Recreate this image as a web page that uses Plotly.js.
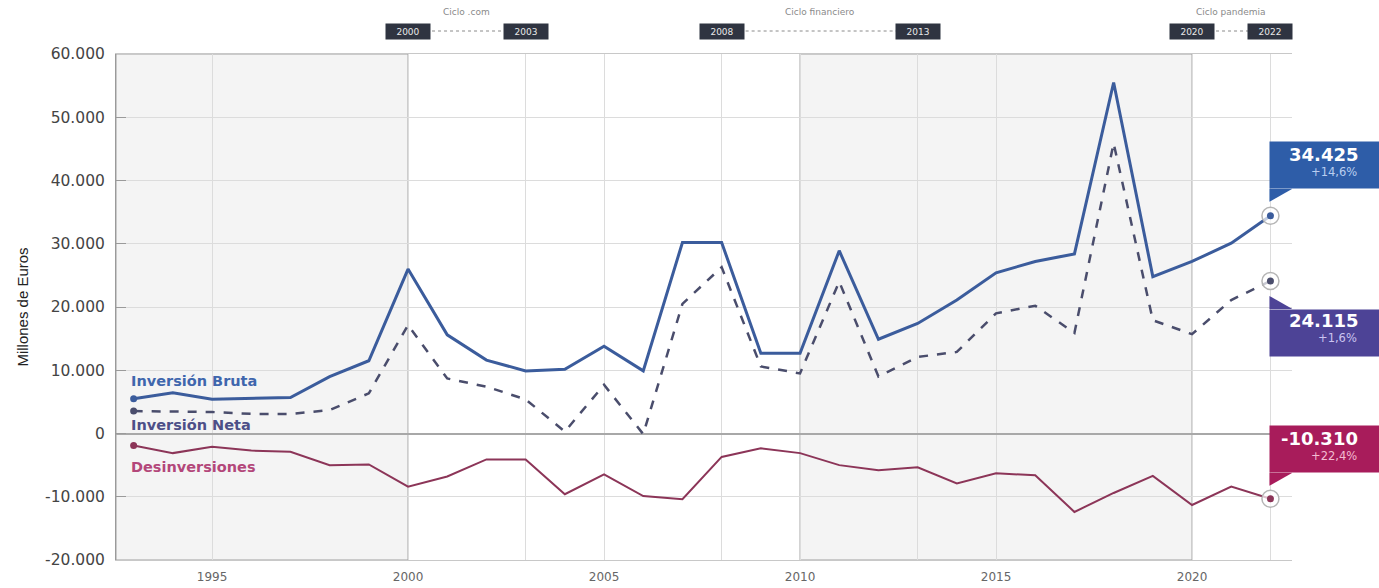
<!DOCTYPE html>
<html>
<head>
<meta charset="utf-8">
<script src="https://cdn.plot.ly/plotly-3.0.1.min.js"></script>
<style>html,body{margin:0;padding:0;background:#fff;}#chart{width:1379px;height:588px;}</style>
</head>
<body>
<div id="chart"></div>
<script>
// ---- data ----
const years = [1993,1994,1995,1996,1997,1998,1999,2000,2001,2002,2003,2004,2005,2006,2007,2008,2009,2010,2011,2012,2013,2014,2015,2016,2017,2018,2019,2020,2021,2022];
const inversionBruta = [5500,6450,5400,5550,5700,9000,11500,26000,15600,11600,9900,10150,13800,9900,30200,30200,12700,12700,28900,14900,17400,21100,25400,27200,28400,55500,24800,27200,30100,34425];
const inversionNeta = [3550,3450,3400,3100,3100,3700,6350,17150,8700,7400,5400,300,7700,-100,20500,26300,10600,9500,24000,9000,12100,12900,19000,20200,15900,45900,17900,15700,21100,24115];
const desinversiones = [-1900,-3100,-2100,-2700,-2900,-5000,-4900,-8400,-6800,-4100,-4100,-9600,-6450,-9900,-10400,-3700,-2350,-3100,-5000,-5800,-5350,-7900,-6300,-6600,-12400,-9400,-6700,-11300,-8400,-10310];
const seriesNames = ['Inversión Bruta','Inversión Neta','Desinversiones'];
const lastChange = ['+14,6%','+1,6%','+22,4%'];
const cycleStart = [2000,2008,2020];
const cycleEnd = [2003,2013,2022];
const cycleNames = ['Ciclo .com','Ciclo financiero','Ciclo pandemia'];
const shadedStart = [1992.55,2010];
const shadedEnd = [2000,2020];
const yTickVals = [-20000,-10000,0,10000,20000,30000,40000,50000,60000];
const yTickText = ['-20.000','-10.000','0','10.000','20.000','30.000','40.000','50.000','60.000'];
const xTickVals = [1995,2000,2003,2005,2008,2010,2013,2015,2020,2022];
const xTickText = ['1995','2000','','2005','','2010','','2015','2020',''];

// ---- styles ----
const lineColors = ['#3b5c9c','#4a4d6c','#8c3558'];
const labelColors = ['#3f66ad','#4d4f88','#b3477a'];
const boxColors = ['#2e5da8','#4d4396','#a81c5b'];
const pctColors = ['#b9cdf0','#cbc4f0','#f3bdd2'];

function fmt(v){
  const s = Math.abs(Math.round(v)).toString().replace(/\B(?=(\d{3})+(?!\d))/g,'.');
  return (v<0?'-':'')+s;
}

const series = [inversionBruta, inversionNeta, desinversiones];
const dashes = ['solid','dash','solid'];
const widths = [3,2.5,2];
const traces = [];
series.forEach((s,i)=>{
  traces.push({x:years,y:s,type:'scatter',mode:'lines',name:seriesNames[i],
    line:{color:lineColors[i],width:widths[i],dash:dashes[i]},hoverinfo:'x+y'});
});
// first-point dots
series.forEach((s,i)=>{
  traces.push({x:[years[0]],y:[s[0]],type:'scatter',mode:'markers',showlegend:false,
    marker:{color:lineColors[i],size:7},cliponaxis:false,hoverinfo:'skip'});
});
// last-point rings and dots
series.forEach((s,i)=>{
  const n = s.length-1;
  traces.push({x:[years[n]],y:[s[n]],type:'scatter',mode:'markers',showlegend:false,
    marker:{color:'rgba(255,255,255,0.7)',size:17,line:{color:'#b5b5b5',width:1.5}},cliponaxis:false,hoverinfo:'skip'});
  traces.push({x:[years[n]],y:[s[n]],type:'scatter',mode:'markers',showlegend:false,
    marker:{color:lineColors[i],size:7},cliponaxis:false,hoverinfo:'skip'});
});

const shapes = [];
shadedStart.forEach((x0,i)=>{
  shapes.push({type:'rect',xref:'x',yref:'paper',x0:x0,x1:shadedEnd[i],y0:0,y1:1,
    fillcolor:'#f4f4f4',line:{color:'#a0a0a0',width:1},layer:'below'});
});
const annotations = [];
// series labels
const labelY = [8300,1350,-5300];
seriesNames.forEach((nm,i)=>{
  annotations.push({x:years[0],y:labelY[i],xref:'x',yref:'y',text:'<b>'+nm+'</b>',showarrow:false,
    xanchor:'left',yanchor:'middle',xshift:-5,font:{family:'DejaVu Sans',size:14.5,color:labelColors[i]}});
});
// callouts
const boxSide = [1,-1,1];
const boxShift = [27,-28,26];
const tipShift = [14,-15,13];
series.forEach((s,i)=>{
  const n = s.length-1;
  const xv = years[n], yv = s[n];
  const up = boxSide[i]===1;
  annotations.push({x:xv,y:yv,xref:'x',yref:'y',text:' ',showarrow:false,xanchor:'left',
    yanchor: up?'bottom':'top', xshift:-1, yshift:boxShift[i], width:112, height:46, borderpad:0,
    bgcolor:boxColors[i], font:{size:10,color:boxColors[i]}});
  const numShift = up ? boxShift[i]+34 : boxShift[i]-12;
  const pctShift = up ? boxShift[i]+17 : boxShift[i]-29;
  annotations.push({x:xv,y:yv,xref:'x',yref:'y',text:'<b>'+fmt(yv)+'</b>',showarrow:false,xanchor:'right',
    yanchor:'middle',xshift:90,yshift:numShift,font:{family:'DejaVu Sans',size:18,color:'#ffffff'}});
  annotations.push({x:xv,y:yv,xref:'x',yref:'y',text:lastChange[i],showarrow:false,xanchor:'right',
    yanchor:'middle',xshift:89,yshift:pctShift,font:{family:'DejaVu Sans',size:11.5,color:pctColors[i]}});
  const b = boxShift[i], t = tipShift[i];
  shapes.push({type:'path',xref:'x',yref:'y',xsizemode:'pixel',ysizemode:'pixel',xanchor:xv,yanchor:yv,
    path:'M-1,'+b+' L22,'+b+' L-1,'+t+' Z',fillcolor:boxColors[i],line:{width:0},layer:'above'});
});
// cycles on top
const yBox = 1 + 23/506, yLab = 1 + 42/506;
cycleStart.forEach((cs,i)=>{
  const ce = cycleEnd[i];
  shapes.push({type:'line',xref:'x',yref:'paper',x0:cs,x1:ce,y0:yBox,y1:yBox,
    line:{color:'#8a8a8a',width:1,dash:'dot'}});
  [cs,ce].forEach(v=>{
    annotations.push({x:v,y:yBox,xref:'x',yref:'paper',text:String(v),showarrow:false,
      xanchor:'center',yanchor:'middle',bgcolor:'#2f3441',borderpad:3,width:38,height:9,
      font:{family:'DejaVu Sans',size:9,color:'#e8e8e8'}});
  });
  annotations.push({x:(cs+ce)/2,y:yLab,xref:'x',yref:'paper',text:cycleNames[i],showarrow:false,
    xanchor:'center',yanchor:'middle',font:{family:'DejaVu Sans',size:9,color:'#8a8a8a'}});
});

const layout = {
  width:1379,height:588,
  margin:{l:116,r:87,t:54,b:28},
  paper_bgcolor:'#ffffff',plot_bgcolor:'#ffffff',
  showlegend:false,
  font:{family:'DejaVu Sans',color:'#333'},
  xaxis:{range:[1992.55,2022.55],tickvals:xTickVals,ticktext:xTickText,showgrid:true,gridcolor:'#dcdcdc',
    gridwidth:1,zeroline:false,showline:true,linecolor:'#c8c8c8',mirror:true,ticks:'',
    ticklabelstandoff:6,
    tickfont:{family:'DejaVu Sans',size:12,color:'#666'}},
  yaxis:{range:[-20000,60000],tickvals:yTickVals,ticktext:yTickText,showgrid:true,gridcolor:'#dcdcdc',
    zeroline:true,zerolinecolor:'#a8a8a8',zerolinewidth:2,showline:true,linecolor:'#9a9a9a',
    ticks:'inside',ticklen:10,tickcolor:'#9a9a9a',ticklabelstandoff:7,
    tickfont:{family:'DejaVu Sans',size:15.5,color:'#444'},
    title:{text:'Millones de Euros',font:{family:'Liberation Sans',size:15,color:'#222'},standoff:12}},
  shapes:shapes,
  annotations:annotations
};
Plotly.newPlot('chart',traces,layout,{displayModeBar:false,staticPlot:true});
</script>
</body>
</html>
